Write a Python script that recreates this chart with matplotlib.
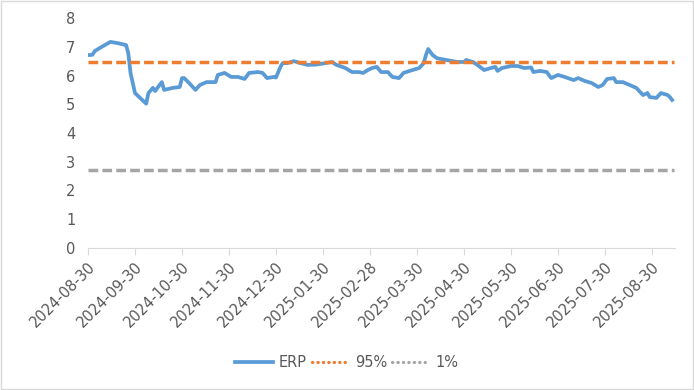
import matplotlib.pyplot as plt
from matplotlib.lines import Line2D
from matplotlib.patches import Rectangle

# trading-day index and ERP values
day = [0, 2, 3, 6, 10, 13, 17, 18, 19, 21, 26, 27, 29, 30, 32, 33, 34, 38, 41, 42,
       43, 46, 48, 50, 53, 57, 58, 61, 64, 67, 70, 72, 76, 78, 80, 83, 84, 86, 87,
       89, 92, 95, 98, 102, 106, 109, 111, 115, 118, 121, 123, 125, 127, 129, 131,
       134, 136, 139, 141, 145, 148, 150, 151, 152, 154, 156, 160, 165, 168, 169,
       172, 174, 177, 180, 182, 183, 185, 189, 192, 195, 198, 199, 202, 205, 207,
       210, 213, 217, 219, 222, 225, 228, 230, 232, 235, 236, 239, 242, 245, 248,
       250, 251, 254, 256, 259, 260, 261]
erp = [6.71, 6.72, 6.85, 6.99, 7.17, 7.13, 7.06, 6.78, 6.09, 5.39, 5.02, 5.39, 5.57,
       5.46, 5.67, 5.77, 5.50, 5.57, 5.60, 5.91,
       5.91, 5.67, 5.50, 5.67, 5.77, 5.77, 6.02, 6.09, 5.95, 5.95, 5.88, 6.09, 6.12,
       6.09, 5.91, 5.95, 5.93, 6.30, 6.43,
       6.43, 6.50, 6.43, 6.37, 6.38, 6.43, 6.47, 6.37, 6.26, 6.12, 6.12, 6.09, 6.19,
       6.26, 6.30, 6.12,
       6.12, 5.95, 5.91, 6.09, 6.19, 6.26, 6.43, 6.71, 6.92, 6.71, 6.60, 6.54, 6.47,
       6.47, 6.54,
       6.47, 6.37, 6.19, 6.26, 6.30, 6.16, 6.26, 6.33, 6.33, 6.26, 6.28, 6.12, 6.16,
       6.12, 5.91,
       6.02, 5.95, 5.84, 5.91, 5.81, 5.74, 5.60, 5.67, 5.88, 5.91, 5.77, 5.77, 5.67,
       5.57, 5.32,
       5.39, 5.25, 5.22, 5.39, 5.32, 5.25, 5.15]
n_days = 262
p95 = 6.48
p01 = 2.72
tick_labels = ['2024-08-30', '2024-09-30', '2024-10-30', '2024-11-30', '2024-12-30',
               '2025-01-30', '2025-02-28', '2025-03-30', '2025-04-30', '2025-05-30',
               '2025-06-30', '2025-07-30', '2025-08-30']

blue = '#5B9BD5'
orange = '#ED7D31'
gray = '#A5A5A5'
txt = '#595959'

fig = plt.figure(figsize=(6.94, 3.90), dpi=100)
ax = fig.add_axes([88 / 694, 1 - 248 / 390, (675 - 88) / 694, 230 / 390])

ax.plot(day, erp, color=blue, lw=2.7, solid_joinstyle='round')
ax.plot([0, n_days], [p95, p95], color=orange, lw=2.5, linestyle=(0, (2.8, 1.2)))
ax.plot([0, n_days], [p01, p01], color=gray, lw=2.5, linestyle=(0, (2.8, 1.2)))

ax.set_xlim(0, n_days + 0.3)
ax.set_ylim(0, 8)
ax.set_yticks(range(0, 9))
ax.set_xticks([21 * i for i in range(len(tick_labels))])
ax.set_xticklabels(tick_labels, rotation=45, ha='right', rotation_mode='anchor')

for s in ['top', 'right', 'left']:
    ax.spines[s].set_visible(False)
ax.spines['bottom'].set_color('#D9D9D9')
ax.tick_params(axis='x', colors='#D9D9D9', length=5, labelcolor=txt, labelsize=10.5, pad=3)
ax.tick_params(axis='y', length=0, labelcolor=txt, labelsize=10.5, pad=9)

handles = [Line2D([], [], color=blue, lw=2.7),
           Line2D([], [], color=orange, lw=2.3, linestyle=(0, (0.1, 1.6)), dash_capstyle='round'),
           Line2D([], [], color=gray, lw=2.3, linestyle=(0, (0.1, 1.6)), dash_capstyle='round')]
fig.legend(handles, ['ERP', '95%', '1%'], loc='center', bbox_to_anchor=(0.5, 0.07),
           ncol=3, frameon=False, fontsize=10.5, labelcolor=txt, handlelength=2.6,
           handletextpad=0.4, columnspacing=0.3)

fig.patches.append(Rectangle((0.001, 0.002), 0.997, 0.995, transform=fig.transFigure,
                             fill=False, edgecolor='#D9D9D9', lw=1))

fig.savefig('out.png', dpi=100)
